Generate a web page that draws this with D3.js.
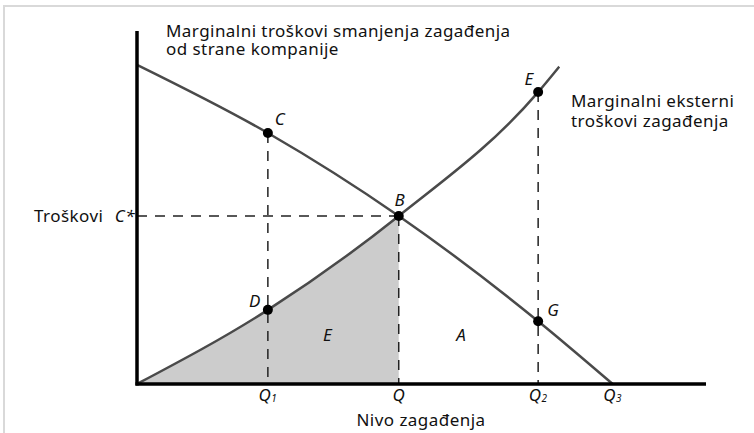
<!DOCTYPE html>
<html lang="sr">
  <head>
    <meta charset="utf-8">
    <title>Troškovi zagađenja</title>
    <script src="https://d3js.org/d3.v7.min.js"></script>
    <style>
      body { margin: 0; background: #fff; }
      text { font-family: "Noto Sans", "Open Sans", sans-serif; font-size: 17px; letter-spacing: 0.45px; fill: #111; }
      .it { font-style: italic; }
      .curve { fill: none; stroke: #4a4a4a; stroke-width: 2.5px; }
      .guide { stroke: #222; stroke-width: 1.5px; stroke-dasharray: 10,8; }
      .axis { stroke: #000; stroke-width: 3.5px; }
    </style>
  </head>
  <body>
    <svg id="chart" width="754" height="433" xmlns="http://www.w3.org/2000/svg"></svg>
    <script>
      // values (0-100 on both axes)
      const abatementCost = [[0, 90.4], [23, 71.1], [46, 47.6], [70.5, 17.8], [83.6, 0]];
      const externalCost = [[0, 0], [23, 21], [46, 47.6], [70.5, 82.7], [74.2, 89.9]];
      const quantities = [
        {name: 'Q', sub: '1', x: 23},
        {name: 'Q', sub: '', x: 46},
        {name: 'Q', sub: '2', x: 70.5},
        {name: 'Q', sub: '3', x: 83.6}
      ];
      const points = [
        {name: 'C', x: 23, y: 71.1},
        {name: 'D', x: 23, y: 21},
        {name: 'B', x: 46, y: 47.6},
        {name: 'E', x: 70.5, y: 82.7},
        {name: 'G', x: 70.5, y: 17.8}
      ];
      const equilibriumCost = 47.6;
      const areaLabels = [{name: 'E', x: 33.5, y: 14}, {name: 'A', x: 57, y: 14}];

      const svg = d3.select('#chart');
      const x = d3.scaleLinear().domain([0, 100]).range([137, 706]);
      const y = d3.scaleLinear().domain([0, 100]).range([384, 31]);

      // frame
      svg.append('path')
        .attr('d', 'M4,433V6H754')
        .attr('fill', 'none')
        .attr('stroke', '#d9d9d9')
        .attr('stroke-width', 2);

      // shaded area under external cost up to Q
      svg.append('clipPath').attr('id', 'upToQ')
        .append('rect')
        .attr('x', x(0)).attr('y', y(100))
        .attr('width', x(quantities[1].x) - x(0))
        .attr('height', y(0) - y(100));
      svg.append('path')
        .datum(externalCost)
        .attr('clip-path', 'url(#upToQ)')
        .attr('fill', '#cccccc')
        .attr('d', d3.area()
          .x(function(d) {return x(d[0])})
          .y0(y(0))
          .y1(function(d) {return y(d[1])})
          .curve(d3.curveMonotoneX));

      // dashed guides
      svg.append('line').attr('class', 'guide')
        .attr('x1', x(0)).attr('x2', x(quantities[1].x))
        .attr('y1', y(equilibriumCost)).attr('y2', y(equilibriumCost));
      [points[0], points[2], points[3]].forEach(function(p) {
        svg.append('line').attr('class', 'guide')
          .attr('x1', x(p.x)).attr('x2', x(p.x))
          .attr('y1', y(p.y)).attr('y2', y(0));
      });

      // curves
      let line = d3.line()
        .x(function(d) {return x(d[0])})
        .y(function(d) {return y(d[1])})
        .curve(d3.curveMonotoneX);
      svg.append('path').datum(abatementCost).attr('class', 'curve').attr('d', line);
      svg.append('path').datum(externalCost).attr('class', 'curve').attr('d', line);

      // axes
      svg.append('line').attr('class', 'axis')
        .attr('x1', x(0)).attr('x2', x(0)).attr('y1', y(100)).attr('y2', y(0) + 1.5);
      svg.append('line').attr('class', 'axis')
        .attr('x1', x(0) - 1.5).attr('x2', x(100)).attr('y1', y(0)).attr('y2', y(0));

      // points
      svg.selectAll('circle')
        .data(points)
        .join('circle')
        .attr('cx', function(d) {return x(d.x)})
        .attr('cy', function(d) {return y(d.y)})
        .attr('r', 5)
        .attr('fill', '#000');

      const labelOffset = {C: [12, -8], D: [-13, -3], B: [1, -10], E: [-9, -7], G: [15, -5]};
      svg.selectAll('text.pt')
        .data(points)
        .join('text')
        .attr('class', 'pt it')
        .attr('text-anchor', 'middle')
        .attr('x', function(d) {return x(d.x) + labelOffset[d.name][0]})
        .attr('y', function(d) {return y(d.y) + labelOffset[d.name][1]})
        .text(function(d) {return d.name});

      svg.selectAll('text.area')
        .data(areaLabels)
        .join('text')
        .attr('class', 'area it')
        .attr('text-anchor', 'middle')
        .attr('x', function(d) {return x(d.x)})
        .attr('y', function(d) {return y(d.y) + 6})
        .text(function(d) {return d.name});

      // quantity tick labels
      let q = svg.selectAll('text.q')
        .data(quantities)
        .join('text')
        .attr('class', 'q it')
        .attr('text-anchor', 'middle')
        .attr('x', function(d) {return x(d.x)})
        .attr('y', 401);
      q.append('tspan').text(function(d) {return d.name});
      q.append('tspan').attr('font-size', 10).attr('dy', 1).text(function(d) {return d.sub});

      // cost label
      svg.append('text').attr('x', 34).attr('y', y(equilibriumCost) + 6).text('Troškovi');
      svg.append('text').attr('class', 'it').attr('x', 135).attr('text-anchor', 'end')
        .attr('y', y(equilibriumCost) + 6).text('C*');

      svg.append('text').attr('x', 421).attr('y', 426).attr('text-anchor', 'middle').text('Nivo zagađenja');

      // curve captions
      let cap1 = svg.append('text').attr('x', 166).attr('y', 37);
      cap1.append('tspan').attr('x', 166).text('Marginalni troškovi smanjenja zagađenja');
      cap1.append('tspan').attr('x', 166).attr('dy', 18).text('od strane kompanije');
      let cap2 = svg.append('text').attr('x', 571).attr('y', 107);
      cap2.append('tspan').attr('x', 571).text('Marginalni eksterni');
      cap2.append('tspan').attr('x', 571).attr('dy', 20).text('troškovi zagađenja');
    </script>
  </body>
</html>
